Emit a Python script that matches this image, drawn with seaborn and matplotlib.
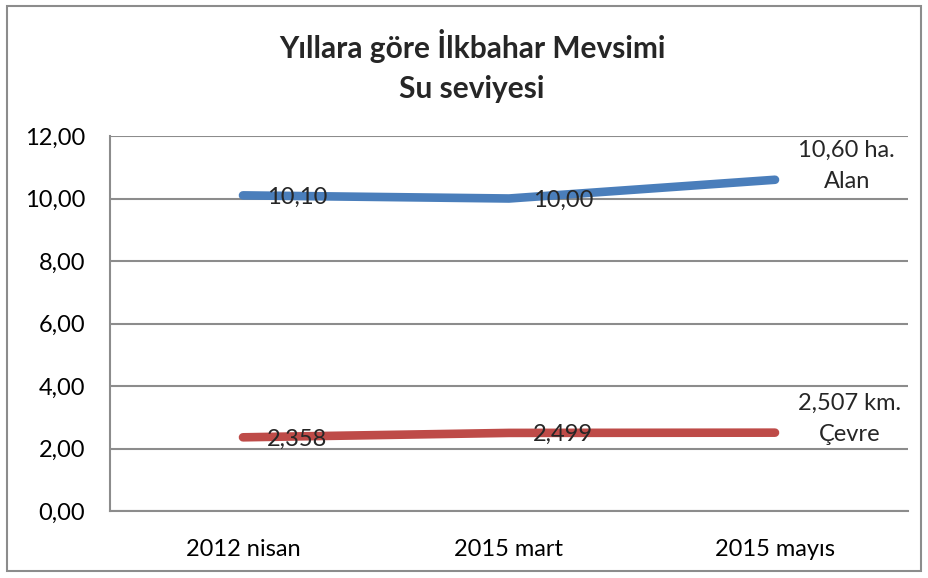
import matplotlib
matplotlib.use("Agg")
import matplotlib.pyplot as plt
from matplotlib.patches import Rectangle
import seaborn as sns
import pandas as pd

periods = ["2012 nisan", "2015 mart", "2015 mayıs"]
alan = [10.10, 10.00, 10.60]
cevre = [2.358, 2.499, 2.507]
alan_labels = ["10,10", "10,00", "10,60 ha.\nAlan"]
cevre_labels = ["2,358", "2,499", "2,507 km.\nÇevre"]
yticks = [0, 2, 4, 6, 8, 10, 12]
ytick_labels = ["0,00", "2,00", "4,00", "6,00", "8,00", "10,00", "12,00"]

sns.set_theme(style="white")
plt.rcParams["font.family"] = ["Lato", "DejaVu Sans"]

df = pd.DataFrame({
    "Dönem": periods * 2,
    "Değer": alan + cevre,
    "Seri": ["Alan"] * 3 + ["Çevre"] * 3,
})

fig = plt.figure(figsize=(9.29, 5.78), dpi=100)
ax = fig.add_axes([110 / 929, 1 - 511 / 578, 798 / 929, 375 / 578])

palette = {"Alan": "#4A7EBB", "Çevre": "#BE4B48"}
sns.lineplot(data=df, x="Dönem", y="Değer", hue="Seri", palette=palette,
             linewidth=6.2, solid_capstyle="round", legend=False, ax=ax,
             sort=False, zorder=3)

FS = 17

ax.set_xlim(-0.5, 2.5)
ax.set_ylim(0, 12)
ax.set_yticks(yticks)
ax.set_yticklabels(ytick_labels)
ax.set_xlabel("")
ax.set_ylabel("")
ax.yaxis.grid(True, color="#8C8C8C", linewidth=1.5, zorder=1)
ax.xaxis.grid(False)
ax.set_axisbelow(True)
for side in ["top", "right"]:
    ax.spines[side].set_visible(False)
for side in ["left", "bottom"]:
    ax.spines[side].set_color("#8C8C8C")
    ax.spines[side].set_linewidth(1.5)
ax.tick_params(axis="both", length=0, labelsize=FS, colors="black")
ax.tick_params(axis="y", pad=18)
ax.tick_params(axis="x", pad=20)

# value labels next to each point
for i, (v, t) in enumerate(zip(alan[:2], alan_labels[:2])):
    ax.text(i + 0.09, v - 0.05, t, ha="left", va="center", fontsize=FS, zorder=4)
for i, (v, t) in enumerate(zip(cevre[:2], cevre_labels[:2])):
    ax.text(i + 0.09, v - 0.05, t, ha="left", va="center", fontsize=FS, zorder=4)
ax.text(2.27, alan[2] + 0.45, alan_labels[2], ha="center", va="center",
        fontsize=FS, linespacing=1.6, zorder=4)
ax.text(2.28, cevre[2] + 0.45, cevre_labels[2], ha="center", va="center",
        fontsize=FS, linespacing=1.6, zorder=4)

fig.text(472 / 929, 1 - 66 / 578, "Yıllara göre İlkbahar Mevsimi\nSu seviyesi",
         ha="center", va="center", fontsize=21.5, fontweight="bold",
         linespacing=1.55)

fig.patches.append(Rectangle((7 / 929, 1 - 571 / 578), 914 / 929, 565 / 578,
                             transform=fig.transFigure, fill=False,
                             edgecolor="#8C8C8C", linewidth=1.5))

fig.savefig("out.png", dpi=100, facecolor="white")
